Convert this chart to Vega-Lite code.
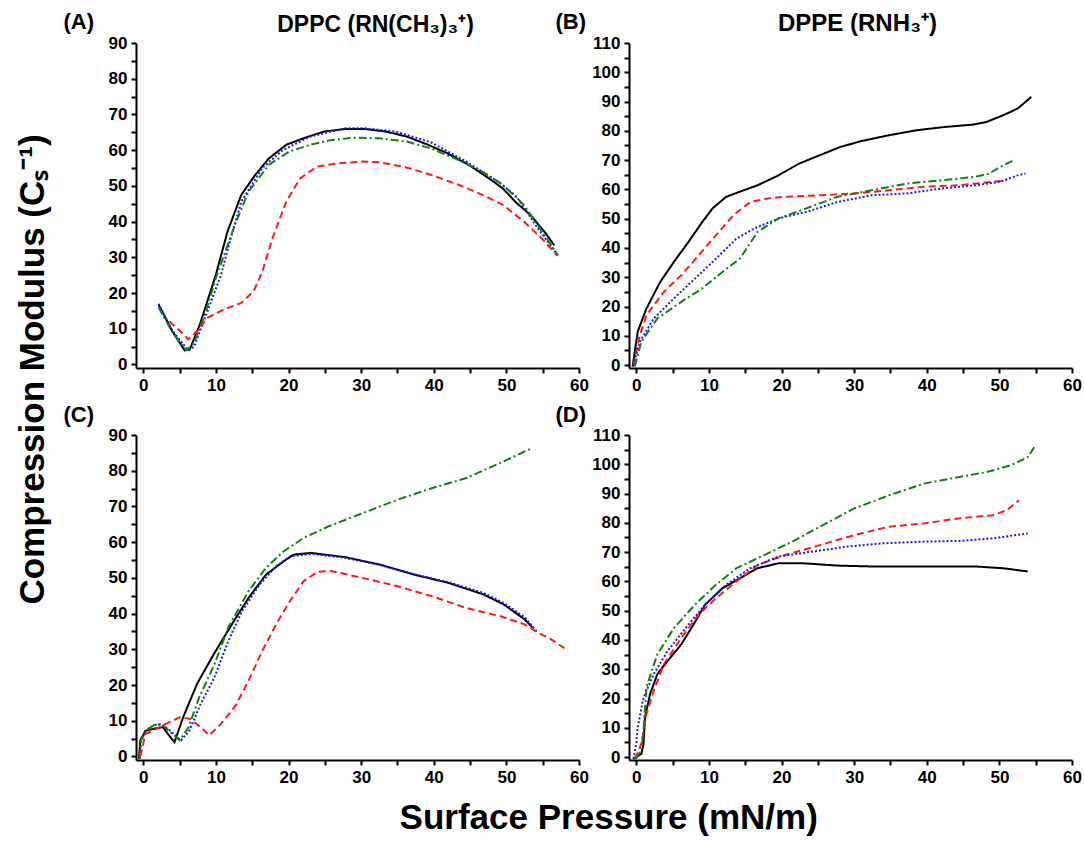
{
 "$schema": "https://vega.github.io/schema/vega-lite/v6.json",
 "padding": {"left": 15, "top": 10, "right": 0, "bottom": 0},
 "background": "white",
 "data": {"values": [
  {"p":"A","s":"S1","x":2.1,"y":16.8},{"p":"A","s":"S1","x":4.0,"y":9.3},{"p":"A","s":"S1","x":5.7,"y":3.9},{"p":"A","s":"S1","x":6.4,"y":4.2},{"p":"A","s":"S1","x":7.8,"y":11.2},{"p":"A","s":"S1","x":10,"y":25.1},{"p":"A","s":"S1","x":11.6,"y":37.2},{"p":"A","s":"S1","x":13.5,"y":47.5},{"p":"A","s":"S1","x":15.4,"y":53},{"p":"A","s":"S1","x":17.3,"y":57.7},{"p":"A","s":"S1","x":19.7,"y":61.5},{"p":"A","s":"S1","x":22,"y":63.3},{"p":"A","s":"S1","x":24.9,"y":65.2},{"p":"A","s":"S1","x":27.7,"y":65.9},{"p":"A","s":"S1","x":30.6,"y":65.9},{"p":"A","s":"S1","x":33.4,"y":65.2},{"p":"A","s":"S1","x":36.3,"y":63.8},{"p":"A","s":"S1","x":39.1,"y":61.6},{"p":"A","s":"S1","x":41.9,"y":59.1},{"p":"A","s":"S1","x":44.8,"y":55.9},{"p":"A","s":"S1","x":47.6,"y":52.1},{"p":"A","s":"S1","x":49.5,"y":49.3},{"p":"A","s":"S1","x":51.4,"y":45.2},{"p":"A","s":"S1","x":53.3,"y":41.9},{"p":"A","s":"S1","x":55.5,"y":36.5},{"p":"A","s":"S1","x":56.6,"y":33.3},
  {"p":"A","s":"S3","x":2.1,"y":17},{"p":"A","s":"S3","x":4,"y":9.5},{"p":"A","s":"S3","x":6.2,"y":3.9},{"p":"A","s":"S3","x":7,"y":5},{"p":"A","s":"S3","x":8.5,"y":13},{"p":"A","s":"S3","x":10.7,"y":25},{"p":"A","s":"S3","x":12,"y":35},{"p":"A","s":"S3","x":13.5,"y":45.6},{"p":"A","s":"S3","x":16.4,"y":55},{"p":"A","s":"S3","x":19.2,"y":60},{"p":"A","s":"S3","x":23,"y":63.8},{"p":"A","s":"S3","x":27.7,"y":66.1},{"p":"A","s":"S3","x":30.6,"y":66.1},{"p":"A","s":"S3","x":34.8,"y":65.2},{"p":"A","s":"S3","x":39.6,"y":62.2},{"p":"A","s":"S3","x":44.3,"y":57},{"p":"A","s":"S3","x":49,"y":51},{"p":"A","s":"S3","x":51.4,"y":47},{"p":"A","s":"S3","x":54.3,"y":38.2},{"p":"A","s":"S3","x":57.1,"y":30.5},
  {"p":"A","s":"S4","x":2.1,"y":16},{"p":"A","s":"S4","x":4,"y":9},{"p":"A","s":"S4","x":5.9,"y":4},{"p":"A","s":"S4","x":7,"y":6},{"p":"A","s":"S4","x":8.5,"y":14},{"p":"A","s":"S4","x":10,"y":24.2},{"p":"A","s":"S4","x":12.6,"y":39},{"p":"A","s":"S4","x":14.5,"y":48.4},{"p":"A","s":"S4","x":17.3,"y":55.9},{"p":"A","s":"S4","x":20.1,"y":59.6},{"p":"A","s":"S4","x":23,"y":61.5},{"p":"A","s":"S4","x":25.8,"y":62.8},{"p":"A","s":"S4","x":29.1,"y":63.5},{"p":"A","s":"S4","x":32.5,"y":63.3},{"p":"A","s":"S4","x":36.3,"y":62.4},{"p":"A","s":"S4","x":39.6,"y":60.5},{"p":"A","s":"S4","x":42.9,"y":57.7},{"p":"A","s":"S4","x":46.7,"y":54},{"p":"A","s":"S4","x":49.5,"y":50.3},{"p":"A","s":"S4","x":52.4,"y":44.7},{"p":"A","s":"S4","x":55,"y":37},{"p":"A","s":"S4","x":57.1,"y":30.5},
  {"p":"A","s":"S2","x":3.6,"y":12.1},{"p":"A","s":"S2","x":5,"y":9.5},{"p":"A","s":"S2","x":6.2,"y":7},{"p":"A","s":"S2","x":7.5,"y":9.5},{"p":"A","s":"S2","x":8.8,"y":13},{"p":"A","s":"S2","x":11.1,"y":15.4},{"p":"A","s":"S2","x":13.5,"y":17.2},{"p":"A","s":"S2","x":15.2,"y":20.5},{"p":"A","s":"S2","x":16.4,"y":26},{"p":"A","s":"S2","x":17.8,"y":35.4},{"p":"A","s":"S2","x":19.7,"y":45.6},{"p":"A","s":"S2","x":21.6,"y":52.1},{"p":"A","s":"S2","x":23.9,"y":55.4},{"p":"A","s":"S2","x":26.8,"y":56.3},{"p":"A","s":"S2","x":30.1,"y":56.8},{"p":"A","s":"S2","x":32.5,"y":56.6},{"p":"A","s":"S2","x":35.8,"y":55.4},{"p":"A","s":"S2","x":39.6,"y":53.1},{"p":"A","s":"S2","x":43.4,"y":50.3},{"p":"A","s":"S2","x":46.7,"y":47.5},{"p":"A","s":"S2","x":49.5,"y":44.7},{"p":"A","s":"S2","x":52.4,"y":40},{"p":"A","s":"S2","x":55,"y":35},{"p":"A","s":"S2","x":57,"y":30.5},
  {"p":"B","s":"S1","x":-0.5,"y":-0.5},{"p":"B","s":"S1","x":0.2,"y":11.4},{"p":"B","s":"S1","x":1.4,"y":19.3},{"p":"B","s":"S1","x":3.3,"y":28.4},{"p":"B","s":"S1","x":5.2,"y":35.3},{"p":"B","s":"S1","x":7.2,"y":42.1},{"p":"B","s":"S1","x":9.1,"y":48.9},{"p":"B","s":"S1","x":10.5,"y":53.5},{"p":"B","s":"S1","x":12.4,"y":57.5},{"p":"B","s":"S1","x":14.8,"y":59.7},{"p":"B","s":"S1","x":16.7,"y":61.4},{"p":"B","s":"S1","x":19.6,"y":64.8},{"p":"B","s":"S1","x":22.4,"y":68.8},{"p":"B","s":"S1","x":25.3,"y":71.7},{"p":"B","s":"S1","x":28.1,"y":74.5},{"p":"B","s":"S1","x":31,"y":76.5},{"p":"B","s":"S1","x":34.8,"y":78.5},{"p":"B","s":"S1","x":38.6,"y":80.2},{"p":"B","s":"S1","x":42.4,"y":81.3},{"p":"B","s":"S1","x":46.3,"y":82.1},{"p":"B","s":"S1","x":48.2,"y":83},{"p":"B","s":"S1","x":50.5,"y":85.3},{"p":"B","s":"S1","x":52.5,"y":87.6},{"p":"B","s":"S1","x":53.6,"y":89.9},{"p":"B","s":"S1","x":54.4,"y":91.6},
  {"p":"B","s":"S2","x":-0.4,"y":0},{"p":"B","s":"S2","x":0.5,"y":10.2},{"p":"B","s":"S2","x":1.4,"y":17},{"p":"B","s":"S2","x":3.8,"y":25},{"p":"B","s":"S2","x":6.2,"y":30.7},{"p":"B","s":"S2","x":8.6,"y":37.5},{"p":"B","s":"S2","x":11,"y":44.4},{"p":"B","s":"S2","x":13.4,"y":51.2},{"p":"B","s":"S2","x":15.7,"y":55.7},{"p":"B","s":"S2","x":18.1,"y":56.9},{"p":"B","s":"S2","x":20.5,"y":57.5},{"p":"B","s":"S2","x":25.3,"y":58},{"p":"B","s":"S2","x":30,"y":58.6},{"p":"B","s":"S2","x":34.8,"y":59.7},{"p":"B","s":"S2","x":39.6,"y":60.9},{"p":"B","s":"S2","x":44.4,"y":61.4},{"p":"B","s":"S2","x":49.1,"y":62.6},{"p":"B","s":"S2","x":51,"y":63.1},
  {"p":"B","s":"S3","x":-0.4,"y":0},{"p":"B","s":"S3","x":0.5,"y":8},{"p":"B","s":"S3","x":2.4,"y":15.9},{"p":"B","s":"S3","x":5.2,"y":22.8},{"p":"B","s":"S3","x":8.1,"y":29.6},{"p":"B","s":"S3","x":11,"y":36.4},{"p":"B","s":"S3","x":13.8,"y":43.2},{"p":"B","s":"S3","x":16.2,"y":46.6},{"p":"B","s":"S3","x":19.6,"y":50.1},{"p":"B","s":"S3","x":23.4,"y":52.3},{"p":"B","s":"S3","x":27.7,"y":55.7},{"p":"B","s":"S3","x":32.4,"y":58},{"p":"B","s":"S3","x":37.2,"y":58.6},{"p":"B","s":"S3","x":42,"y":60.3},{"p":"B","s":"S3","x":46.7,"y":61.4},{"p":"B","s":"S3","x":50.1,"y":62.6},{"p":"B","s":"S3","x":52.5,"y":64.8},{"p":"B","s":"S3","x":53.6,"y":65.4},
  {"p":"B","s":"S4","x":-0.2,"y":-0.5},{"p":"B","s":"S4","x":0.7,"y":8},{"p":"B","s":"S4","x":2.9,"y":15.9},{"p":"B","s":"S4","x":6.2,"y":21.6},{"p":"B","s":"S4","x":9.1,"y":26.2},{"p":"B","s":"S4","x":11.9,"y":31.9},{"p":"B","s":"S4","x":14.3,"y":36.4},{"p":"B","s":"S4","x":16.7,"y":45.5},{"p":"B","s":"S4","x":19.6,"y":50.1},{"p":"B","s":"S4","x":23.4,"y":53.5},{"p":"B","s":"S4","x":27.7,"y":57.5},{"p":"B","s":"S4","x":32.4,"y":59.7},{"p":"B","s":"S4","x":37.2,"y":62},{"p":"B","s":"S4","x":42,"y":63.1},{"p":"B","s":"S4","x":46.7,"y":64.3},{"p":"B","s":"S4","x":48.6,"y":65.4},{"p":"B","s":"S4","x":50.1,"y":67.7},{"p":"B","s":"S4","x":52,"y":70},
  {"p":"C","s":"S1","x":-0.6,"y":-0.7},{"p":"C","s":"S1","x":-0.4,"y":4.5},{"p":"C","s":"S1","x":0.3,"y":7.2},{"p":"C","s":"S1","x":1.3,"y":7.7},{"p":"C","s":"S1","x":2.7,"y":8.2},{"p":"C","s":"S1","x":3.5,"y":6},{"p":"C","s":"S1","x":4.3,"y":4},{"p":"C","s":"S1","x":5.5,"y":11},{"p":"C","s":"S1","x":7.4,"y":20.3},{"p":"C","s":"S1","x":9.7,"y":28.6},{"p":"C","s":"S1","x":12.2,"y":37},{"p":"C","s":"S1","x":14.5,"y":44.4},{"p":"C","s":"S1","x":16.9,"y":50.9},{"p":"C","s":"S1","x":19.3,"y":54.6},{"p":"C","s":"S1","x":20.7,"y":56.5},{"p":"C","s":"S1","x":23.1,"y":57},{"p":"C","s":"S1","x":27.8,"y":55.8},{"p":"C","s":"S1","x":32.6,"y":53.7},{"p":"C","s":"S1","x":37.3,"y":50.9},{"p":"C","s":"S1","x":42,"y":48.6},{"p":"C","s":"S1","x":46.8,"y":45.4},{"p":"C","s":"S1","x":49.6,"y":42.6},{"p":"C","s":"S1","x":52.5,"y":38.4},{"p":"C","s":"S1","x":53.6,"y":36.1},
  {"p":"C","s":"S3","x":-0.5,"y":-0.7},{"p":"C","s":"S3","x":-0.3,"y":4.5},{"p":"C","s":"S3","x":0.5,"y":7.5},{"p":"C","s":"S3","x":1.5,"y":8.8},{"p":"C","s":"S3","x":2.5,"y":9},{"p":"C","s":"S3","x":3.5,"y":7.5},{"p":"C","s":"S3","x":5.2,"y":4.5},{"p":"C","s":"S3","x":6.3,"y":7},{"p":"C","s":"S3","x":7.9,"y":14.7},{"p":"C","s":"S3","x":9.8,"y":22.1},{"p":"C","s":"S3","x":11.7,"y":32.3},{"p":"C","s":"S3","x":13.6,"y":40.7},{"p":"C","s":"S3","x":16,"y":48.1},{"p":"C","s":"S3","x":18.3,"y":53.3},{"p":"C","s":"S3","x":20.2,"y":56},{"p":"C","s":"S3","x":23.1,"y":56.7},{"p":"C","s":"S3","x":27.8,"y":55.6},{"p":"C","s":"S3","x":32.6,"y":53.6},{"p":"C","s":"S3","x":37.3,"y":51},{"p":"C","s":"S3","x":42,"y":48.8},{"p":"C","s":"S3","x":46.8,"y":45.8},{"p":"C","s":"S3","x":49.6,"y":43},{"p":"C","s":"S3","x":52.5,"y":39},{"p":"C","s":"S3","x":54.3,"y":34.7},
  {"p":"C","s":"S4","x":-0.5,"y":-0.7},{"p":"C","s":"S4","x":-0.3,"y":4.5},{"p":"C","s":"S4","x":0.5,"y":7.5},{"p":"C","s":"S4","x":1.5,"y":8.8},{"p":"C","s":"S4","x":2.6,"y":9},{"p":"C","s":"S4","x":3.6,"y":7},{"p":"C","s":"S4","x":5,"y":4.5},{"p":"C","s":"S4","x":6.2,"y":8},{"p":"C","s":"S4","x":7.7,"y":16.5},{"p":"C","s":"S4","x":9.8,"y":25.8},{"p":"C","s":"S4","x":11.7,"y":36.1},{"p":"C","s":"S4","x":14.5,"y":46.3},{"p":"C","s":"S4","x":16.9,"y":52.8},{"p":"C","s":"S4","x":19.3,"y":57.4},{"p":"C","s":"S4","x":22.1,"y":61.2},{"p":"C","s":"S4","x":25.5,"y":64.4},{"p":"C","s":"S4","x":30.2,"y":68.1},{"p":"C","s":"S4","x":34.9,"y":71.8},{"p":"C","s":"S4","x":39.7,"y":75.1},{"p":"C","s":"S4","x":44.4,"y":77.9},{"p":"C","s":"S4","x":49.1,"y":82.1},{"p":"C","s":"S4","x":53.4,"y":86.2},
  {"p":"C","s":"S2","x":-0.4,"y":0},{"p":"C","s":"S2","x":0.3,"y":6.3},{"p":"C","s":"S2","x":1.3,"y":7.2},{"p":"C","s":"S2","x":3.1,"y":9.1},{"p":"C","s":"S2","x":5.1,"y":11},{"p":"C","s":"S2","x":6.5,"y":10.5},{"p":"C","s":"S2","x":7.9,"y":8.2},{"p":"C","s":"S2","x":9.1,"y":5.9},{"p":"C","s":"S2","x":10.7,"y":9.1},{"p":"C","s":"S2","x":12.7,"y":14.2},{"p":"C","s":"S2","x":14.5,"y":21.2},{"p":"C","s":"S2","x":16.4,"y":29.6},{"p":"C","s":"S2","x":18.3,"y":37},{"p":"C","s":"S2","x":20.2,"y":43.5},{"p":"C","s":"S2","x":22.1,"y":49.1},{"p":"C","s":"S2","x":24,"y":51.7},{"p":"C","s":"S2","x":25.9,"y":51.9},{"p":"C","s":"S2","x":30.2,"y":50},{"p":"C","s":"S2","x":34.9,"y":47.7},{"p":"C","s":"S2","x":39.7,"y":44.9},{"p":"C","s":"S2","x":44.4,"y":41.6},{"p":"C","s":"S2","x":49.1,"y":39.3},{"p":"C","s":"S2","x":52.5,"y":37},{"p":"C","s":"S2","x":54.3,"y":34.7},{"p":"C","s":"S2","x":56,"y":33},{"p":"C","s":"S2","x":58,"y":30.3},
  {"p":"D","s":"S1","x":-0.4,"y":-0.6},{"p":"D","s":"S1","x":0.7,"y":1.1},{"p":"D","s":"S1","x":1,"y":4.5},{"p":"D","s":"S1","x":1.2,"y":13.6},{"p":"D","s":"S1","x":1.9,"y":21.5},{"p":"D","s":"S1","x":2.9,"y":28.3},{"p":"D","s":"S1","x":4.3,"y":32.8},{"p":"D","s":"S1","x":6.2,"y":38.5},{"p":"D","s":"S1","x":7.6,"y":44.1},{"p":"D","s":"S1","x":9.5,"y":52.1},{"p":"D","s":"S1","x":11.9,"y":57.7},{"p":"D","s":"S1","x":14.3,"y":61.1},{"p":"D","s":"S1","x":16.7,"y":64.5},{"p":"D","s":"S1","x":19.6,"y":66.2},{"p":"D","s":"S1","x":22.9,"y":66.2},{"p":"D","s":"S1","x":27.7,"y":65.4},{"p":"D","s":"S1","x":32.4,"y":65.1},{"p":"D","s":"S1","x":39.6,"y":65.1},{"p":"D","s":"S1","x":46.7,"y":65.1},{"p":"D","s":"S1","x":50.5,"y":64.5},{"p":"D","s":"S1","x":53.9,"y":63.4},
  {"p":"D","s":"S2","x":-0.2,"y":-0.6},{"p":"D","s":"S2","x":0.7,"y":4.5},{"p":"D","s":"S2","x":1.4,"y":14.7},{"p":"D","s":"S2","x":2.4,"y":22.6},{"p":"D","s":"S2","x":3.8,"y":31.7},{"p":"D","s":"S2","x":6.2,"y":40.7},{"p":"D","s":"S2","x":8.6,"y":48.7},{"p":"D","s":"S2","x":11,"y":54.3},{"p":"D","s":"S2","x":13.8,"y":60},{"p":"D","s":"S2","x":16.7,"y":65.6},{"p":"D","s":"S2","x":20.5,"y":69},{"p":"D","s":"S2","x":25.3,"y":72.4},{"p":"D","s":"S2","x":30,"y":75.8},{"p":"D","s":"S2","x":34.8,"y":78.7},{"p":"D","s":"S2","x":39.6,"y":79.8},{"p":"D","s":"S2","x":44.3,"y":81.5},{"p":"D","s":"S2","x":49.1,"y":82.6},{"p":"D","s":"S2","x":51,"y":84.3},{"p":"D","s":"S2","x":52.7,"y":87.7},
  {"p":"D","s":"S3","x":-0.4,"y":-0.6},{"p":"D","s":"S3","x":0,"y":4.5},{"p":"D","s":"S3","x":0.2,"y":10.2},{"p":"D","s":"S3","x":1,"y":20.4},{"p":"D","s":"S3","x":2.4,"y":28.3},{"p":"D","s":"S3","x":4.3,"y":36.2},{"p":"D","s":"S3","x":7.2,"y":45.3},{"p":"D","s":"S3","x":9.5,"y":52.1},{"p":"D","s":"S3","x":12.4,"y":58.9},{"p":"D","s":"S3","x":15.7,"y":64.5},{"p":"D","s":"S3","x":19.6,"y":68.5},{"p":"D","s":"S3","x":24.3,"y":70.2},{"p":"D","s":"S3","x":29.1,"y":71.9},{"p":"D","s":"S3","x":33.8,"y":73},{"p":"D","s":"S3","x":39.6,"y":73.6},{"p":"D","s":"S3","x":44.3,"y":73.8},{"p":"D","s":"S3","x":49.1,"y":74.7},{"p":"D","s":"S3","x":53.9,"y":76.4},
  {"p":"D","s":"S4","x":-0.1,"y":-0.6},{"p":"D","s":"S4","x":0.7,"y":2.3},{"p":"D","s":"S4","x":1,"y":9.1},{"p":"D","s":"S4","x":1.4,"y":23.8},{"p":"D","s":"S4","x":2.9,"y":35.1},{"p":"D","s":"S4","x":5.2,"y":44.1},{"p":"D","s":"S4","x":8.1,"y":52.1},{"p":"D","s":"S4","x":11,"y":58.9},{"p":"D","s":"S4","x":13.8,"y":64.5},{"p":"D","s":"S4","x":17.6,"y":69},{"p":"D","s":"S4","x":21.5,"y":73.6},{"p":"D","s":"S4","x":25.3,"y":78.7},{"p":"D","s":"S4","x":30,"y":84.9},{"p":"D","s":"S4","x":34.8,"y":89.4},{"p":"D","s":"S4","x":39.6,"y":93.4},{"p":"D","s":"S4","x":44.3,"y":95.6},{"p":"D","s":"S4","x":48.2,"y":97.3},{"p":"D","s":"S4","x":51.5,"y":99.6},{"p":"D","s":"S4","x":53.9,"y":102.4},{"p":"D","s":"S4","x":54.8,"y":105.8}
 ]},
 "title": {"text": "Surface Pressure (mN/m)", "orient": "bottom", "anchor": "middle", "frame": "bounds", "dx": 60, "fontSize": 35, "fontWeight": "bold", "font": "Liberation Sans", "color": "#000", "offset": 16},
 "vconcat": [{
  "title": {"text": "Compression Modulus (Cₛ⁻¹)", "orient": "left", "anchor": "middle", "frame": "bounds", "dx": 28, "fontSize": 35, "fontWeight": "bold", "font": "Liberation Sans", "color": "#000", "offset": 12},
  "columns": 2,
  "bounds": "flush",
  "spacing": {"row": 67, "column": 50},
  "concat": [
   {"width": 443, "height": 325,
    "title": {"text": "DPPC (RN(CH₃)₃⁺)", "frame": "group", "anchor": "middle", "baseline": "alphabetic", "offset": 11, "dy": 56, "dx": 18, "fontSize": 23, "fontWeight": "bold", "font": "Liberation Sans", "color": "#000"},
    "transform": [{"filter": "datum.p === 'A'"}],
    "mark": {"type": "line", "strokeWidth": 2, "clip": true},
    "encoding": {
     "x": {"field": "x", "type": "quantitative", "scale": {"domain": [-1, 60], "nice": false, "zero": false}, "axis": {"values": [0,5,10,15,20,25,30,35,40,45,50,55,60], "title": null}},
     "y": {"field": "y", "type": "quantitative", "scale": {"domain": [-1, 90], "nice": false, "zero": false}, "axis": {"values": [0,5,10,15,20,25,30,35,40,45,50,55,60,65,70,75,80,85,90], "title": "(A)", "titleX": -73, "titleY": -15}},
     "color": {"field": "s", "type": "nominal", "scale": {"domain": ["S1","S2","S3","S4"], "range": ["#000000","#ff1a1a","#1a1aff","#128012"]}, "legend": null},
     "strokeDash": {"field": "s", "type": "nominal", "scale": {"domain": ["S1","S2","S3","S4"], "range": [[1,0],[7,4],[2,2],[8,3,2,3]]}, "legend": null}
    }},
   {"width": 443, "height": 325,
    "title": {"text": "DPPE (RNH₃⁺)", "frame": "group", "anchor": "middle", "baseline": "alphabetic", "offset": 11, "dy": 56, "dx": 7, "fontSize": 24, "fontWeight": "bold", "font": "Liberation Sans", "color": "#000"},
    "transform": [{"filter": "datum.p === 'B'"}],
    "mark": {"type": "line", "strokeWidth": 2, "clip": true},
    "encoding": {
     "x": {"field": "x", "type": "quantitative", "scale": {"domain": [-1, 60], "nice": false, "zero": false}, "axis": {"values": [0,5,10,15,20,25,30,35,40,45,50,55,60], "title": null}},
     "y": {"field": "y", "type": "quantitative", "scale": {"domain": [-1, 110], "nice": false, "zero": false}, "axis": {"values": [0,5,10,15,20,25,30,35,40,45,50,55,60,65,70,75,80,85,90,95,100,105,110], "title": "(B)", "titleX": -74, "titleY": -15}},
     "color": {"field": "s", "type": "nominal", "scale": {"domain": ["S1","S2","S3","S4"], "range": ["#000000","#ff1a1a","#1a1aff","#128012"]}, "legend": null},
     "strokeDash": {"field": "s", "type": "nominal", "scale": {"domain": ["S1","S2","S3","S4"], "range": [[1,0],[7,4],[2,2],[8,3,2,3]]}, "legend": null}
    }},
   {"width": 443, "height": 325,
    "transform": [{"filter": "datum.p === 'C'"}],
    "mark": {"type": "line", "strokeWidth": 2, "clip": true},
    "encoding": {
     "x": {"field": "x", "type": "quantitative", "scale": {"domain": [-1, 60], "nice": false, "zero": false}, "axis": {"values": [0,5,10,15,20,25,30,35,40,45,50,55,60], "title": null}},
     "y": {"field": "y", "type": "quantitative", "scale": {"domain": [-1, 90], "nice": false, "zero": false}, "axis": {"values": [0,5,10,15,20,25,30,35,40,45,50,55,60,65,70,75,80,85,90], "title": "(C)", "titleX": -73, "titleY": -14}},
     "color": {"field": "s", "type": "nominal", "scale": {"domain": ["S1","S2","S3","S4"], "range": ["#000000","#ff1a1a","#1a1aff","#128012"]}, "legend": null},
     "strokeDash": {"field": "s", "type": "nominal", "scale": {"domain": ["S1","S2","S3","S4"], "range": [[1,0],[7,4],[2,2],[8,3,2,3]]}, "legend": null}
    }},
   {"width": 443, "height": 325,
    "transform": [{"filter": "datum.p === 'D'"}],
    "mark": {"type": "line", "strokeWidth": 2, "clip": true},
    "encoding": {
     "x": {"field": "x", "type": "quantitative", "scale": {"domain": [-1, 60], "nice": false, "zero": false}, "axis": {"values": [0,5,10,15,20,25,30,35,40,45,50,55,60], "title": null}},
     "y": {"field": "y", "type": "quantitative", "scale": {"domain": [-1, 110], "nice": false, "zero": false}, "axis": {"values": [0,5,10,15,20,25,30,35,40,45,50,55,60,65,70,75,80,85,90,95,100,105,110], "title": "(D)", "titleX": -74, "titleY": -14}},
     "color": {"field": "s", "type": "nominal", "scale": {"domain": ["S1","S2","S3","S4"], "range": ["#000000","#ff1a1a","#1a1aff","#128012"]}, "legend": null},
     "strokeDash": {"field": "s", "type": "nominal", "scale": {"domain": ["S1","S2","S3","S4"], "range": [[1,0],[7,4],[2,2],[8,3,2,3]]}, "legend": null}
    }}
  ]
 }],
 "config": {
  "view": {"stroke": null},
  "font": "Liberation Sans",
  "axis": {"grid": false, "domainColor": "#000", "domainWidth": 2, "tickColor": "#000", "tickWidth": 2, "tickSize": 5, "labelFont": "Liberation Sans", "labelFontWeight": "bold", "labelFontSize": 17, "labelColor": "#000", "labelPadding": 4, "labelFlush": false, "labelOverlap": false, "labelExpr": "datum.value % 10 === 0 ? datum.label : ''", "titleFont": "Liberation Sans", "titleFontWeight": "bold", "titleFontSize": 22, "titleColor": "#000", "titleAngle": 0, "titleAlign": "left", "titleBaseline": "alphabetic"}
 }
}
